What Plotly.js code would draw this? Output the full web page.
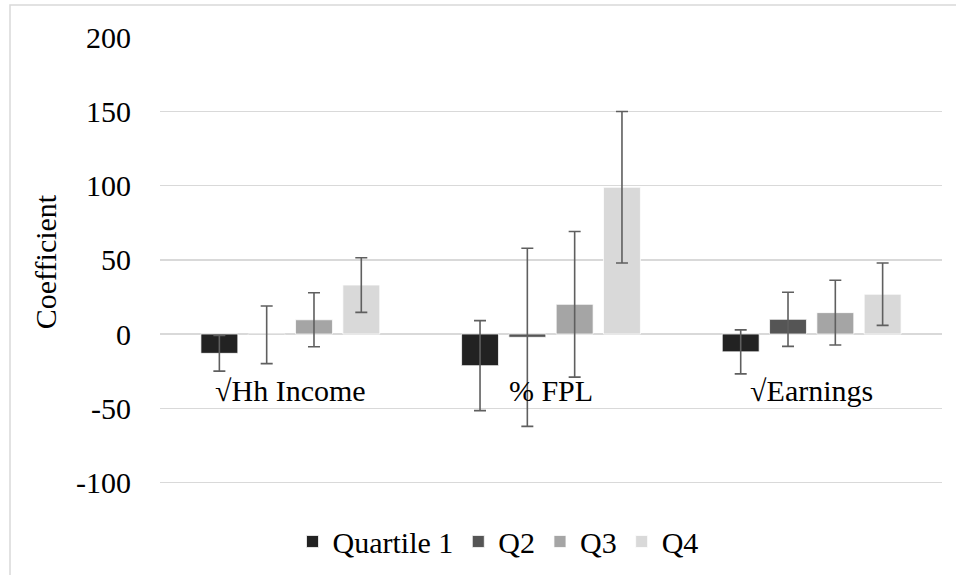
<!DOCTYPE html>
<html>
<head>
<meta charset="utf-8">
<script src="https://cdn.plot.ly/plotly-3.0.1.min.js"></script>
<style>
html,body{margin:0;padding:0;background:#fff;}
#chart{width:956px;height:575px;}
</style>
</head>
<body>
<div id="chart"></div>
<script>
const categories = ["√Hh Income", "% FPL", "√Earnings"];
const seriesNames = ["Quartile 1", "Q2", "Q3", "Q4"];
const q1 = [-13, -21.3, -12];
const q2 = [-0.5, -2.2, 9.9];
const q3 = [9.6, 20, 14.4];
const q4 = [33, 98.8, 26.8];
const q1Err = [12, 30.3, 14.8];
const q2Err = [19.4, 60, 18.2];
const q3Err = [18.2, 49, 21.8];
const q4Err = [18.4, 51, 21];
const yTicks = [-100, -50, 0, 50, 100, 150, 200];

const colors = ["#222222", "#555555", "#a5a5a5", "#d9d9d9"];
const values = [q1, q2, q3, q4];
const errs = [q1Err, q2Err, q3Err, q4Err];

const font = "Liberation Serif, Times New Roman";
const fs = 30;

const traces = values.map((v, i) => ({
  type: "bar",
  name: seriesNames[i],
  x: categories,
  y: v,
  marker: {color: colors[i], line: {color: "#ffffff", width: 0.75}},
  error_y: {type: "data", array: errs[i], visible: true, color: "#5f5f5f", thickness: 1.6, width: 6},
  hoverinfo: "skip"
}));

const yMin = -103, yMax = 200;
const pxPerUnit = 446 / 300;
const L = 160, R = 942, T = 37;
const B = T + (yMax - yMin) * pxPerUnit;
const pw = R - L, ph = B - T;

const layout = {
  width: 956, height: 575,
  margin: {l: L, r: 956 - R, t: T, b: 575 - B, autoexpand: false},
  paper_bgcolor: "#ffffff",
  plot_bgcolor: "#ffffff",
  barmode: "group",
  bargap: 0.274,
  bargroupgap: 0.22,
  font: {family: font, size: fs, color: "#000000"},
  showlegend: true,
  legend: {
    orientation: "h",
    x: (498 - L) / pw, xanchor: "center",
    y: (B - 542) / ph, yanchor: "middle",
    font: {family: font, size: fs, color: "#000000"},
    itemwidth: 30,
    traceorder: "normal"
  },
  xaxis: {
    type: "category",
    anchor: "free",
    position: (0 - yMin) / (yMax - yMin),
    showgrid: false,
    showline: false,
    zeroline: false,
    automargin: false,
    ticks: "",
    ticklabelstandoff: 36,
    tickfont: {family: font, size: fs, color: "#000000"}
  },
  yaxis: {
    range: [yMin, yMax],
    tickvals: yTicks,
    ticktext: yTicks.map(String),
    showgrid: true,
    gridcolor: "#d9d9d9",
    gridwidth: 1.5,
    zeroline: true,
    zerolinecolor: "#d9d9d9",
    zerolinewidth: 1.5,
    showline: false,
    automargin: false,
    ticks: "",
    ticklabelstandoff: 28,
    tickfont: {family: font, size: fs, color: "#000000"},
    title: {text: "Coefficient", font: {family: font, size: fs, color: "#000000"}, standoff: 10}
  },
  shapes: [{
    type: "rect", xref: "paper", yref: "paper",
    x0: (10 - L) / pw, x1: (1000 - L) / pw,
    y0: (B - 700) / ph, y1: (B - 5) / ph,
    line: {color: "#d9d9d9", width: 1.5},
    fillcolor: "rgba(0,0,0,0)",
    layer: "below"
  }]
};

Plotly.newPlot("chart", traces, layout, {staticPlot: true, displayModeBar: false});
</script>
</body>
</html>
